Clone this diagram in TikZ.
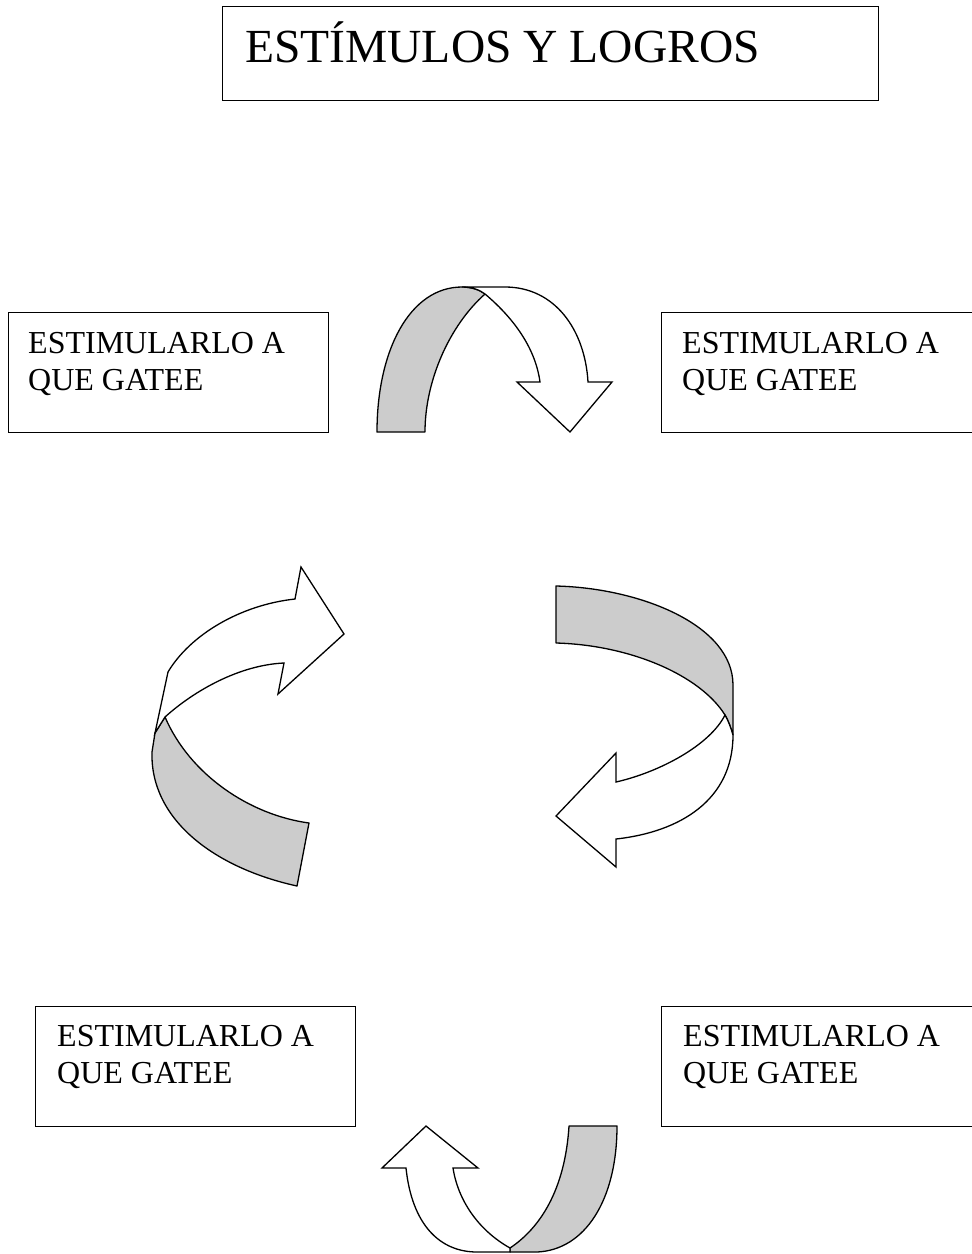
\documentclass[tikz,border=0pt]{standalone}
\usepackage{fontspec}
\setmainfont{Liberation Serif}
\definecolor{ribbongray}{RGB}{204,204,204}
\begin{document}
\begin{tikzpicture}[x=1pt,y=-1pt,
  box/.style={draw=black,line width=1.4pt,inner sep=0pt,minimum width=320pt,minimum height=120pt,anchor=north west},
  lbl/.style={inner sep=0pt,align=left,anchor=north west,font=\fontsize{32}{37}\selectfont},
  back/.style={fill=ribbongray,draw=black,line width=1.3pt,line join=round},
  front/.style={fill=white,draw=black,line width=1.3pt,line join=miter}]
\useasboundingbox (0,0) rectangle (972,1254);
\clip (0,0) rectangle (972,1254);
% title
\node[draw=black,line width=1.4pt,inner sep=0pt,minimum width=656pt,minimum height=94pt,anchor=north west] (titlebox) at (222,6) {};
\node[inner sep=0pt,anchor=base west,font=\fontsize{47.5}{56}\selectfont] (title) at (245,62) {ESTÍMULOS Y LOGROS};
% boxes
\node[box] (tlbox) at (8,312) {};
\node[lbl] (tltxt) at (28,332) {ESTIMULARLO A\\QUE GATEE};
\node[box,minimum width=340pt] (trbox) at (661,312) {};
\node[lbl] (trtxt) at (682,332) {ESTIMULARLO A\\QUE GATEE};
\node[box] (blbox) at (35,1006) {};
\node[lbl] (bltxt) at (57,1025) {ESTIMULARLO A\\QUE GATEE};
\node[box,minimum width=340pt] (brbox) at (661,1006) {};
\node[lbl] (brtxt) at (683,1025) {ESTIMULARLO A\\QUE GATEE};
% top arrow
\draw[back] (377,432) .. controls (377,350) and (410,287) .. (462,287)
  .. controls (472,287) and (480,290) .. (485,294)
  .. controls (450,325) and (425,380) .. (425,432) -- cycle;
\draw[front] (462,287) -- (505,287) .. controls (555,287) and (585,330) .. (588,382)
  -- (612,382) -- (570,432) -- (517,382) -- (540,382)
  .. controls (535,345) and (510,315) .. (485,294)
  .. controls (480,290) and (472,287) .. (462,287) -- cycle;
% left arrow
\draw[back] (165,717) .. controls (190,775) and (250,815) .. (309,823) -- (297,886)
  .. controls (215,868) and (150,820) .. (152,752) -- (155,733) -- cycle;
\draw[front] (155,733) -- (168,672) .. controls (190,635) and (240,605) .. (295,599)
  -- (301,567) -- (344,634) -- (278,694) -- (284,663)
  .. controls (240,665) and (195,690) .. (165,717) -- cycle;
% right arrow
\draw[back] (556,586) .. controls (640,588) and (733,625) .. (733,685) -- (733,735)
  .. controls (731,728) and (728,720) .. (725,715)
  .. controls (700,675) and (630,645) .. (556,643) -- cycle;
\draw[front] (733,735) .. controls (733,800) and (680,832) .. (616,839)
  -- (616,867) -- (556,816) -- (616,753) -- (616,782)
  .. controls (660,772) and (710,745) .. (725,715)
  .. controls (728,720) and (731,728) .. (733,735) -- cycle;
% bottom arrow
\draw[back] (569,1126) -- (617,1126) .. controls (617,1200) and (585,1250) .. (537,1252)
  -- (510,1252) -- (510,1248)
  .. controls (540,1228) and (565,1190) .. (569,1126) -- cycle;
\draw[front] (426,1126) -- (478,1168) -- (453,1168)
  .. controls (458,1200) and (478,1230) .. (510,1248) -- (510,1252) -- (477,1252)
  .. controls (440,1252) and (412,1225) .. (406,1168) -- (382,1168) -- cycle;
\end{tikzpicture}
\end{document}
